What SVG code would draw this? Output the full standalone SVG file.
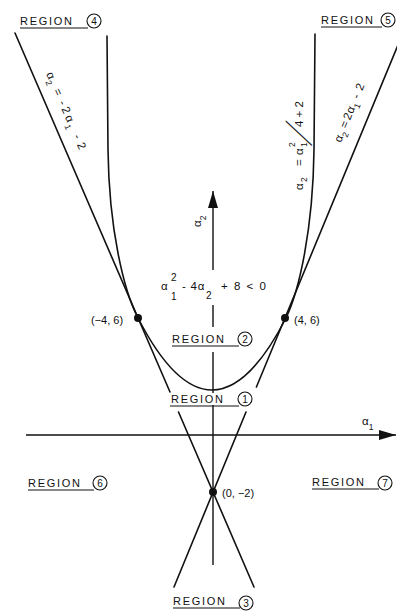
<svg xmlns="http://www.w3.org/2000/svg" width="397" height="613" viewBox="0 0 397 613">
<defs>
<style>
.ln{fill:none;stroke:#111;stroke-width:1.6;stroke-linecap:round}
.ax{fill:none;stroke:#111;stroke-width:1.4}
.ul{stroke:#111;stroke-width:1.1}
.cr{fill:#fff;stroke:#111;stroke-width:1.1}
text{font-family:"Liberation Sans",Arial,sans-serif;fill:#111}
.rl{font-size:11px}
.num{font-size:10px;text-anchor:middle}
.lb{font-size:11px}
.eq{font-size:11.5px}
.sb{font-size:8.5px}
.sl{font-family:"DejaVu Sans","Liberation Sans",sans-serif;font-weight:200;font-size:32px}
</style>
<marker id="ah" markerWidth="18" markerHeight="12" refX="17" refY="6" orient="auto" markerUnits="userSpaceOnUse">
<path d="M0,1 L17,6 L0,11 Z" fill="#111"/>
</marker>
</defs>
<rect width="397" height="613" fill="#fff"/>

<g id="connectors">
<line class="ax" x1="26" y1="435" x2="396" y2="435" marker-end="url(#ah)"/>
<line class="ax" x1="213" y1="270" x2="213" y2="191" marker-end="url(#ah)"/>
<line class="ax" x1="213" y1="305" x2="213" y2="327"/>
<line class="ax" x1="213" y1="352" x2="213" y2="393"/>
<line class="ax" x1="213" y1="405" x2="213" y2="565"/>
<path class="ln" d="M107,36 L108,150 C109,230 124,291 138,318 Q212,462 286,318 C299,291 313,230 314,150 L315,34"/>
<line class="ln" x1="15" y1="33" x2="170" y2="392"/>
<line class="ln" x1="178.5" y1="412" x2="254" y2="587"/>
<line class="ln" x1="398" y1="45" x2="256.4" y2="387"/>
<line class="ln" x1="246" y1="412" x2="174" y2="587"/>
</g>

<g id="points">
<circle cx="138" cy="318" r="4" fill="#111"/>
<circle cx="285" cy="318" r="4" fill="#111"/>
<circle cx="213" cy="492" r="4" fill="#111"/>
<text class="lb" x="91" y="324">(−4, 6)</text>
<text class="lb" x="294" y="324">(4, 6)</text>
<text class="lb" x="222" y="497">(0, −2)</text>
</g>

<g id="axis-labels">
<text class="eq" x="362" y="425">α<tspan class="sb" dy="5">1</tspan></text>
<text class="eq" transform="translate(201,227) rotate(-90)">α<tspan class="sb" dy="5">2</tspan></text>
</g>

<g id="inequality">
<text class="eq" x="161" y="290">α</text>
<text class="sb" x="171" y="281" style="font-size:10px">2</text>
<text class="sb" x="171" y="300" style="font-size:10px">1</text>
<text class="eq" x="182" y="290" style="letter-spacing:0.8px">- 4α</text>
<text class="sb" x="206" y="299" style="font-size:10px">2</text>
<text class="eq" x="221" y="290" xml:space="preserve" style="letter-spacing:1.5px">+ 8 &lt; 0</text>
</g>

<g id="eq-left" transform="translate(46,74) rotate(66.4)">
<text class="eq">α<tspan class="sb" x="7" dy="4">2</tspan><tspan x="18" dy="-4">=</tspan><tspan x="31">-</tspan><tspan x="38">2</tspan><tspan x="47">α</tspan><tspan class="sb" x="55" dy="4">1</tspan><tspan x="68" dy="-4">-</tspan><tspan x="77">2</tspan></text>
</g>

<g id="eq-right" transform="translate(341,143) rotate(-67.8)">
<text class="eq">α<tspan class="sb" x="7" dy="4">2</tspan><tspan x="15" dy="-4">=</tspan><tspan x="24">2</tspan><tspan x="31">α</tspan><tspan class="sb" x="38" dy="4">1</tspan><tspan x="47" dy="-4">-</tspan><tspan x="56">2</tspan></text>
</g>

<g id="eq-parabola" transform="translate(303,190) rotate(-90)">
<text class="eq">α<tspan class="sb" x="8" dy="4">2</tspan><tspan x="24" dy="-4">=</tspan><tspan x="35">α</tspan><tspan class="sb" x="43" dy="-8">2</tspan><tspan class="sb" x="43" dy="12">1</tspan></text>
<g transform="translate(45,6) skewX(-32)"><text class="sl">/</text></g>
<text class="eq" x="63" y="0" xml:space="preserve">4 + 2</text>
</g>

<g id="region-4">
<text class="rl" x="20" y="25" textLength="52" lengthAdjust="spacing">REGION</text>
<line class="ul" x1="20" y1="28" x2="88" y2="28"/>
<circle class="cr" cx="94" cy="21" r="7"/>
<text class="num" x="94" y="24.5">4</text>
</g>
<g id="region-5">
<text class="rl" x="321" y="24" textLength="52" lengthAdjust="spacing">REGION</text>
<line class="ul" x1="321" y1="27" x2="382" y2="27"/>
<circle class="cr" cx="388" cy="20" r="7"/>
<text class="num" x="388" y="23.5">5</text>
</g>
<g id="region-2">
<text class="rl" x="172" y="343" textLength="52" lengthAdjust="spacing">REGION</text>
<line class="ul" x1="172" y1="346" x2="239" y2="346"/>
<circle class="cr" cx="245" cy="339" r="7"/>
<text class="num" x="245" y="342.5">2</text>
</g>
<g id="region-1">
<text class="rl" x="171" y="403" textLength="52" lengthAdjust="spacing">REGION</text>
<line class="ul" x1="170" y1="406" x2="239" y2="406"/>
<circle class="cr" cx="245" cy="399" r="7"/>
<text class="num" x="245" y="402.5">1</text>
</g>
<g id="region-6">
<text class="rl" x="28" y="487" textLength="52" lengthAdjust="spacing">REGION</text>
<line class="ul" x1="28" y1="490" x2="94" y2="490"/>
<circle class="cr" cx="100" cy="483" r="7"/>
<text class="num" x="100" y="486.5">6</text>
</g>
<g id="region-7">
<text class="rl" x="312" y="486" textLength="52" lengthAdjust="spacing">REGION</text>
<line class="ul" x1="312" y1="489" x2="379" y2="489"/>
<circle class="cr" cx="385" cy="483" r="7"/>
<text class="num" x="385" y="486.5">7</text>
</g>
<g id="region-3">
<text class="rl" x="173" y="605" textLength="52" lengthAdjust="spacing">REGION</text>
<line class="ul" x1="173" y1="608" x2="240" y2="608"/>
<circle class="cr" cx="246" cy="603" r="7"/>
<text class="num" x="246" y="606.5">3</text>
</g>
</svg>
